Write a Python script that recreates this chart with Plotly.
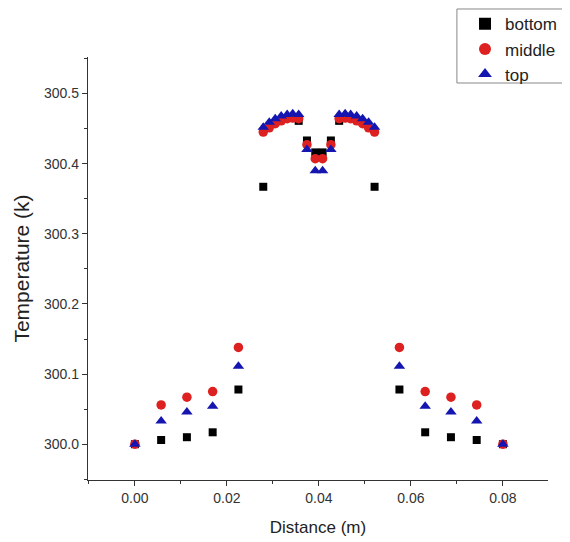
import plotly.graph_objects as go

# ---- data ----
x_outer_left = [0.0, 0.0057, 0.0113, 0.0169, 0.0225]
x_outer_right = [0.0575, 0.0631, 0.0687, 0.0743, 0.08]

bottom_x = x_outer_left + [0.0279, 0.0356, 0.0374, 0.0392, 0.0408, 0.0426, 0.0444, 0.0521] + x_outer_right
bottom_y = [300.0, 300.006, 300.010, 300.017, 300.078,
            300.367, 300.461, 300.433, 300.416, 300.416, 300.433, 300.461, 300.367,
            300.078, 300.017, 300.010, 300.006, 300.0]

arc_left_x = [0.0279, 0.0292, 0.0305, 0.0318, 0.0331, 0.0343, 0.0356]
arc_right_x = [0.0444, 0.0457, 0.0469, 0.0482, 0.0495, 0.0508, 0.0521]
center_x = [0.0374, 0.0392, 0.0408, 0.0426]

middle_x = x_outer_left + arc_left_x + center_x + arc_right_x + x_outer_right
middle_y = [300.0, 300.056, 300.067, 300.075, 300.138,
            300.445, 300.451, 300.457, 300.461, 300.464, 300.465, 300.464,
            300.427, 300.407, 300.407, 300.427,
            300.464, 300.465, 300.464, 300.461, 300.457, 300.451, 300.445,
            300.138, 300.075, 300.067, 300.056, 300.0]

top_x = middle_x
top_y = [300.0, 300.033, 300.046, 300.054, 300.111,
         300.452, 300.459, 300.464, 300.468, 300.470, 300.471, 300.470,
         300.420, 300.390, 300.390, 300.420,
         300.470, 300.471, 300.470, 300.468, 300.464, 300.459, 300.452,
         300.111, 300.054, 300.046, 300.033, 300.0]

x_ticks = [0.0, 0.02, 0.04, 0.06, 0.08]
x_tick_text = ["0.00", "0.02", "0.04", "0.06", "0.08"]
y_ticks = [300.0, 300.1, 300.2, 300.3, 300.4, 300.5]
y_tick_text = ["300.0", "300.1", "300.2", "300.3", "300.4", "300.5"]

fig = go.Figure()
fig.add_trace(go.Scatter(x=bottom_x, y=bottom_y, mode="markers", name="bottom",
                         marker=dict(symbol="square", size=8, color="#000000")))
fig.add_trace(go.Scatter(x=middle_x, y=middle_y, mode="markers", name="middle",
                         marker=dict(symbol="circle", size=9.5, color="#dd2020")))
fig.add_trace(go.Scatter(x=top_x, y=top_y, mode="markers", name="top",
                         marker=dict(symbol="triangle-up", size=10, color="#1515b0")))

axis_font = dict(family="Liberation Sans, Arial, sans-serif", size=14, color="#333333")
fig.update_layout(
    width=562, height=534,
    margin=dict(l=80, r=22, t=49, b=62, autoexpand=False),
    plot_bgcolor="white", paper_bgcolor="white",
    font=dict(family="Liberation Sans, Arial, sans-serif", color="#222222"),
    xaxis=dict(range=[-0.0102, 0.0898], tickvals=x_ticks, ticktext=x_tick_text,
               ticks="outside", ticklen=5, tickwidth=1.2, tickcolor="#333333",
               showline=True, linecolor="#333333", linewidth=1.3, showgrid=False,
               zeroline=False, tickfont=axis_font, automargin=False,
               minor=dict(dtick=0.01, tick0=0, ticks="outside", ticklen=3, tickcolor="#333333"),
               title=dict(text="Distance (m)", font=dict(size=17, color="#222222"), standoff=16)),
    yaxis=dict(range=[299.949, 300.552], tickvals=y_ticks, ticktext=y_tick_text,
               ticks="outside", ticklen=5, tickwidth=1.2, tickcolor="#333333",
               showline=True, linecolor="#333333", linewidth=1.3, showgrid=False,
               zeroline=False, tickfont=axis_font, automargin=False,
               minor=dict(dtick=0.05, tick0=300.0, ticks="outside", ticklen=3, tickcolor="#333333"),
               title=dict(text="Temperature (k)", font=dict(size=21, color="#222222"), standoff=8)),
    legend=dict(x=0.8196, y=1.120, xanchor="left", yanchor="top",
                borderwidth=0, bgcolor="rgba(0,0,0,0)",
                font=dict(size=17, color="#222222"), itemsizing="constant"),
    showlegend=True,
    shapes=[dict(type="rect", xref="paper", yref="paper",
                 x0=0.802, x1=1.046, y0=0.9385, y1=1.1135,
                 line=dict(color="#888888", width=1), fillcolor="rgba(0,0,0,0)", layer="below")],
)

fig.write_html("out.html")
